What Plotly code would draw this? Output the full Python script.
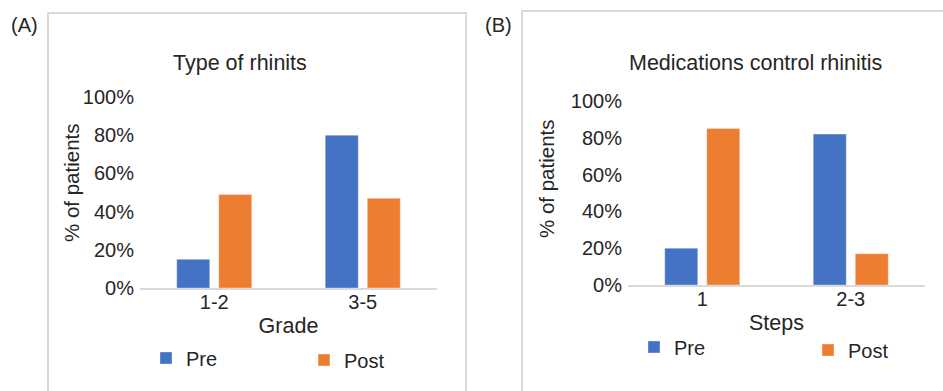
import plotly.graph_objects as go

W, H = 943, 391

cats_a = ["1-2", "3-5"]
pre_a = [0.15, 0.80]
post_a = [0.49, 0.47]

cats_b = ["1", "2-3"]
pre_b = [0.20, 0.82]
post_b = [0.85, 0.17]

series_names = ["Pre", "Post"]
colors = ["#4472C4", "#ED7D31"]

titles = ["Type of rhinits", "Medications control rhinitis"]
xtitles = ["Grade", "Steps"]
ytitle = "% of patients"
panel_labels = ["(A)", "(B)"]

FONT = "Liberation Sans, Arial, sans-serif"
TXT = "#262626"

def px(x):
    return x / W

def py(y):
    return 1 - y / H

fig = go.Figure()

edge = dict(color="rgba(255,255,255,0.35)", width=1)
fig.add_trace(go.Bar(x=cats_a, y=pre_a, name=series_names[0], marker=dict(color=colors[0], line=edge),
                     xaxis="x", yaxis="y", legend="legend"))
fig.add_trace(go.Bar(x=cats_a, y=post_a, name=series_names[1], marker=dict(color=colors[1], line=edge),
                     xaxis="x", yaxis="y", legend="legend2"))
fig.add_trace(go.Bar(x=cats_b, y=pre_b, name=series_names[0], marker=dict(color=colors[0], line=edge),
                     xaxis="x2", yaxis="y2", legend="legend3"))
fig.add_trace(go.Bar(x=cats_b, y=post_b, name=series_names[1], marker=dict(color=colors[1], line=edge),
                     xaxis="x2", yaxis="y2", legend="legend4"))

axis_common_x = dict(showgrid=False, showline=True, linecolor="#d9d9d9", linewidth=2,
                     ticks="", ticklabelstandoff=-5,
                     tickfont=dict(size=20, color=TXT, family=FONT),
                     title=dict(font=dict(size=21.5, color=TXT, family=FONT), standoff=6),
                     fixedrange=True)
axis_common_y = dict(showgrid=False, showline=False, zeroline=False, range=[0, 1],
                     dtick=0.2, tickformat=".0%", ticks="", ticklabelstandoff=5,
                     tickfont=dict(size=20, color=TXT, family=FONT),
                     fixedrange=True)

def leg(xl, yc):
    return dict(orientation="h", x=px(xl), y=py(yc), xanchor="left", yanchor="middle",
                font=dict(size=20, color=TXT, family=FONT), bgcolor="rgba(0,0,0,0)",
                itemclick=False, itemdoubleclick=False)

def label(text, x, y, size=20, angle=0):
    return dict(text=text, xref="paper", yref="paper", x=px(x), y=py(y), showarrow=False,
                xanchor="center", yanchor="middle", textangle=angle,
                font=dict(size=size, color=TXT, family=FONT))

fig.update_layout(
    width=W, height=H,
    margin=dict(l=0, r=0, t=0, b=0, autoexpand=False),
    paper_bgcolor="white", plot_bgcolor="white",
    barmode="group", bargap=0.434, bargroupgap=0.214,
    showlegend=True,
    hovermode=False,
    font=dict(family=FONT, color=TXT, size=20),
    xaxis=dict(domain=[px(140), px(437)], anchor="y", title_text=xtitles[0], **axis_common_x),
    yaxis=dict(domain=[py(288), py(97)], anchor="x", **axis_common_y),
    xaxis2=dict(domain=[px(628), px(925)], anchor="y2", title_text=xtitles[1], **axis_common_x),
    yaxis2=dict(domain=[py(285), py(101)], anchor="x2", **axis_common_y),
    legend=leg(146, 358),
    legend2=leg(304, 360),
    legend3=leg(634, 347),
    legend4=leg(808, 350),
    shapes=[
        dict(type="rect", xref="paper", yref="paper", x0=px(48), x1=px(466), y0=py(420), y1=py(13),
             line=dict(color="#d9d9d9", width=2), fillcolor="rgba(0,0,0,0)", layer="below"),
        dict(type="rect", xref="paper", yref="paper", x0=px(522), x1=px(990), y0=py(420), y1=py(11),
             line=dict(color="#d9d9d9", width=2), fillcolor="rgba(0,0,0,0)", layer="below"),
    ],
    annotations=[
        label(titles[0], 240, 63, 21.5),
        label(titles[1], 755, 63, 21.5),
        label(panel_labels[0], 24, 25),
        label(panel_labels[1], 499, 25),
        label(ytitle, 72, 183, 20.5, -90),
        label(ytitle, 546, 179, 20.5, -90),
    ],
)

fig.write_html("out.html", config={"displayModeBar": False},
               post_script="document.body.style.margin='0';document.body.style.overflow='hidden';")
